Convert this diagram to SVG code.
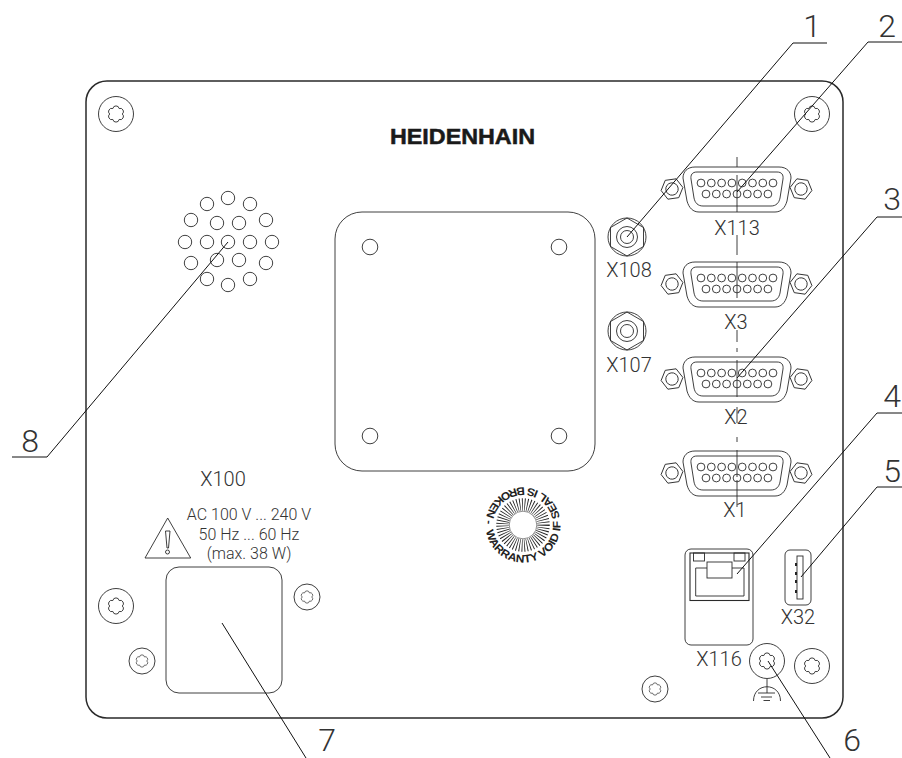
<svg xmlns="http://www.w3.org/2000/svg" width="902" height="758" viewBox="0 0 902 758">
<style>
.l{fill:none;stroke:#2a2a2a;stroke-width:.9}
.p{fill:none;stroke:#2a2a2a;stroke-width:1.5}
.ld{fill:none;stroke:#111;stroke-width:1}
.t{font-family:Roboto,"Liberation Sans",sans-serif;font-weight:300;fill:#333;text-anchor:middle}
.x{font-size:20px}
.s{font-size:16px}
.n{font-size:32px}
</style>
<defs>
<path id="star" class="l" d="M3.15,-5.46A3.2,3.2 0 0 1 6.3,0A3.2,3.2 0 0 1 3.15,5.46A3.2,3.2 0 0 1 -3.15,5.46A3.2,3.2 0 0 1 -6.3,0A3.2,3.2 0 0 1 -3.15,-5.46A3.2,3.2 0 0 1 3.15,-5.46Z"/>
<g id="screwL"><circle class="l" r="17.5"/><use href="#star"/></g>
<g id="screwS"><circle class="l" r="13"/><use href="#star" transform="scale(.76)"/></g>
<g id="hex"><polygon class="l" points="11,0 5.5,9.5 -5.5,9.5 -11,0 -5.5,-9.5 5.5,-9.5"/><circle class="l" r="6.2"/></g>
<g id="coax"><circle class="l" r="19"/><polygon class="l" points="0,-19 16.5,-9.5 16.5,9.5 0,19 -16.5,9.5 -16.5,-9.5"/><circle class="l" r="10.5"/><circle class="l" r="6.5"/></g>
<g id="dsub">
<path class="l" d="M-42,-22H42C50,-22 54,-17 54,-11L50,12C48,19 44,23 38,23H-38C-44,23 -48,19 -50,12L-54,-11C-54,-17 -50,-22 -42,-22Z"/>
<path class="l" d="M-40,-17H40C45,-17 46.5,-14 46,-10L43,9C42,14 39,17 34,17H-34C-39,17 -42,14 -43,9L-46,-10C-46.5,-14 -45,-17 -40,-17Z"/>
<use href="#hex" x="-65" y="0" transform="rotate(-8 -65 0)"/>
<use href="#hex" x="64" y="0" transform="rotate(8 64 0)"/>
<g class="l">
<circle cx="-36" cy="-6" r="3.9"/><circle cx="-25.7" cy="-6" r="3.9"/><circle cx="-15.4" cy="-6" r="3.9"/><circle cx="-5.1" cy="-6" r="3.9"/><circle cx="5.2" cy="-6" r="3.9"/><circle cx="15.5" cy="-6" r="3.9"/><circle cx="25.8" cy="-6" r="3.9"/><circle cx="36" cy="-6" r="3.9"/>
<circle cx="-31" cy="5" r="3.9"/><circle cx="-20.7" cy="5" r="3.9"/><circle cx="-10.4" cy="5" r="3.9"/><circle cx="0" cy="5" r="3.9"/><circle cx="10.3" cy="5" r="3.9"/><circle cx="20.6" cy="5" r="3.9"/><circle cx="30.9" cy="5" r="3.9"/>
</g>
</g>
</defs>
<rect width="902" height="758" fill="#fff"/>
<rect id="panel" class="p" x="86" y="81" width="757" height="637" rx="21"/>
<text id="logo" x="462.500" y="144" font-family="Liberation Sans,sans-serif" font-weight="700" font-size="22" text-anchor="middle" textLength="145" lengthAdjust="spacingAndGlyphs" fill="#1a1a1a" stroke="#1a1a1a" stroke-width=".5">HEIDENHAIN</text>
<g id="screws">
<use href="#screwL" x="116" y="114"/><use href="#screwL" x="812" y="114"/><use href="#screwL" x="116" y="606"/><use href="#screwL" x="812" y="666"/>
<use href="#screwS" x="142" y="661"/><use href="#screwS" x="307" y="597"/><use href="#screwS" x="655" y="689"/>
</g>
<g id="speaker" class="l">
<circle cx="185" cy="242" r="6.7"/><circle cx="207" cy="242" r="6.7"/><circle cx="228" cy="242" r="6.7"/><circle cx="250" cy="242" r="6.7"/><circle cx="272" cy="242" r="6.7"/>
<circle cx="207" cy="204" r="6.7"/><circle cx="228" cy="198" r="6.7"/><circle cx="250" cy="204" r="6.7"/><circle cx="191" cy="220" r="6.7"/><circle cx="217" cy="223" r="6.7"/><circle cx="239" cy="223" r="6.7"/><circle cx="266" cy="220" r="6.7"/>
<circle cx="191" cy="263" r="6.7"/><circle cx="217" cy="260" r="6.7"/><circle cx="239" cy="260" r="6.7"/><circle cx="266" cy="263" r="6.7"/><circle cx="207" cy="279" r="6.7"/><circle cx="228" cy="285" r="6.7"/><circle cx="250" cy="279" r="6.7"/>
</g>
<g id="mount" class="l">
<rect x="335" y="212" width="260" height="259" rx="27"/>
<circle cx="370" cy="247" r="7.800"/><circle cx="559" cy="247" r="7.800"/><circle cx="370" cy="436" r="7.800"/><circle cx="559" cy="436" r="7.800"/>
</g>
<g id="seal">
<circle cx="523" cy="525" r="13.800" fill="none" stroke="#222" stroke-width=".5"/>
<circle cx="523" cy="525" r="20.500" fill="none" stroke="#222" stroke-width="12.500" stroke-dasharray=".8 1.700"/>
<path id="sealPath" fill="none" d="M486,531A37.500,37.500 0 1 0 486,519A37.500,37.500 0 0 0 486,531"/>
<text font-family="Liberation Sans,sans-serif" font-weight="700" font-size="11" fill="#222"><textPath href="#sealPath" textLength="228" lengthAdjust="spacingAndGlyphs">WARRANTY VOID IF SEAL IS BROKEN -</textPath></text>
</g>
<g id="centerline" class="l">
<path d="M737,157V167M737,175V212M737,235V255M737,262V298M737,330V342M737,348V352M737,360V397M737,407V423M737,437V442M737,450V477M737,480V507"/>
</g>
<g id="x108"><use href="#coax" x="627" y="237"/><text class="t x" x="629" y="277">X108</text></g>
<g id="x107"><use href="#coax" x="627" y="331"/><text class="t x" x="629" y="372">X107</text></g>
<g id="x113"><use href="#dsub" x="737" y="189"/><text class="t x" x="737" y="235">X113</text></g>
<g id="x3"><use href="#dsub" x="737" y="284"/><text class="t x" x="736" y="329">X3</text></g>
<g id="x2"><use href="#dsub" x="737" y="379"/><text class="t x" x="736" y="424">X2</text></g>
<g id="x1"><use href="#dsub" x="737" y="473"/><text class="t x" x="735" y="517">X1</text></g>
<g id="x116">
<rect class="l" x="685" y="549" width="68" height="96" rx="6"/>
<rect class="l" x="690" y="553" width="59" height="47.500" style="stroke-width:1.1"/>
<rect class="l" x="693.500" y="553" width="11" height="8"/><rect class="l" x="734" y="553" width="11" height="8"/>
<path class="l" d="M707,568H695.700V596H744V568H732"/>
<rect class="l" x="707" y="562" width="25" height="16"/>
<text class="t x" x="719" y="666">X116</text>
</g>
<g id="x32">
<rect class="l" x="785" y="550" width="26" height="55" rx="5"/>
<rect class="l" x="797" y="556" width="6" height="43"/>
<path fill="#222" d="M795,563h2v3h-2zM795,572h2v3h-2zM795,580h2v3h-2zM795,590h2v3h-2z"/>
<text class="t x" x="798" y="624">X32</text>
</g>
<g id="ground">
<use href="#screwL" x="767" y="661"/>
<path class="l" d="M767,679V693M753.500,701C753.500,682 780.500,682 780.500,701M758,693H775M761,697H772M763.500,700.500H770"/>
</g>
<g id="power">
<text class="t x" x="223" y="486">X100</text>
<path class="l" d="M167.700,518L145,558H190.700Z"/>
<path class="l" d="M165.500,531H170L168.500,548H167Z"/><circle class="l" cx="167.500" cy="552" r="2"/>
<text class="t s" x="249" y="520">AC 100 V ... 240 V</text>
<text class="t s" x="249" y="540">50 Hz ... 60 Hz</text>
<text class="t s" x="249" y="559">(max. 38 W)</text>
<rect class="l" x="166" y="567" width="116" height="126" rx="13"/>
</g>
<g id="leaders" class="ld">
<path d="M627,237L793,43H827"/>
<path d="M737,192L868,42H902"/>
<path d="M737,378L877,217H902"/>
<path d="M737,574L877,413H902"/>
<path d="M801,577L877,487H902"/>
<path d="M768,661L830,758"/>
<path d="M222,623L306,758"/>
<path d="M228,242L47,457H12"/>
</g>
<g id="numbers">
<text class="t n" x="812" y="37">1</text>
<text class="t n" x="887" y="37">2</text>
<text class="t n" x="892" y="210">3</text>
<text class="t n" x="892" y="407">4</text>
<text class="t n" x="892" y="482">5</text>
<text class="t n" x="852" y="751">6</text>
<text class="t n" x="327" y="751">7</text>
<text class="t n" x="30" y="452">8</text>
</g>
</svg>
